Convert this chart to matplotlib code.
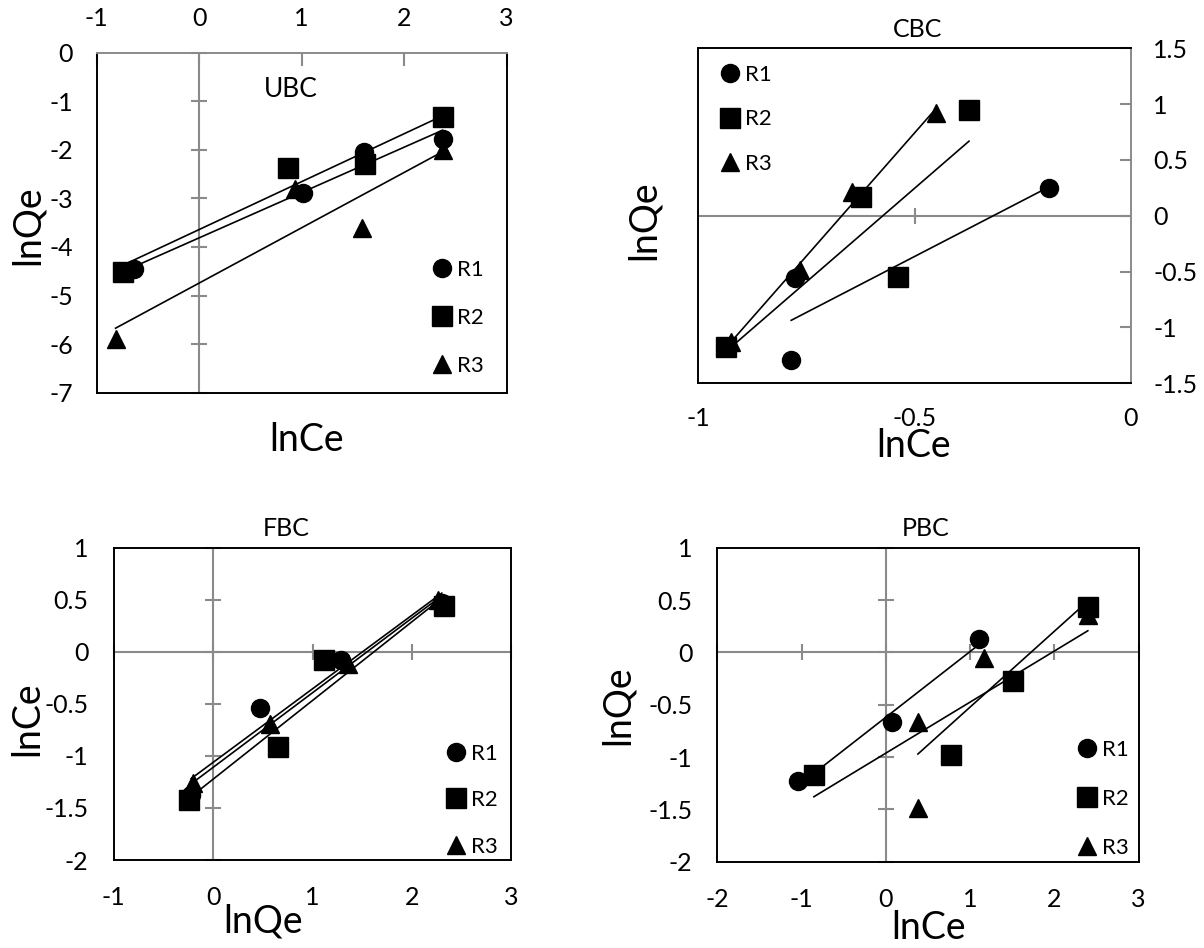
import numpy as np
import matplotlib.pyplot as plt
from matplotlib.lines import Line2D
from matplotlib.ticker import FuncFormatter

plt.rcParams['font.family'] = ['Lato', 'DejaVu Sans']
plt.rcParams['axes.unicode_minus'] = False

# ---------------- data ----------------
series_names = ['R1', 'R2', 'R3']

ubc_r1_x = [-0.635, 1.010, 1.609, 2.374]
ubc_r1_y = [-4.461, -2.896, -2.038, -1.784]
ubc_r2_x = [-0.746, 0.871, 1.619, 2.374]
ubc_r2_y = [-4.509, -2.381, -2.292, -1.318]
ubc_r3_x = [-0.816, 0.934, 1.591, 2.374]
ubc_r3_y = [-5.900, -2.800, -3.617, -2.003]

cbc_r1_x = [-0.785, -0.777, -0.190]
cbc_r1_y = [-1.291, -0.560, 0.252]
cbc_r2_x = [-0.936, -0.624, -0.539, -0.374]
cbc_r2_y = [-1.172, 0.166, -0.545, 0.948]
cbc_r3_x = [-0.924, -0.764, -0.644, -0.450]
cbc_r3_y = [-1.133, -0.485, 0.216, 0.918]

fbc_r1_x = [-0.220, 0.475, 1.290, 2.300]
fbc_r1_y = [-1.380, -0.543, -0.079, 0.470]
fbc_r2_x = [-0.239, 0.654, 1.120, 2.323]
fbc_r2_y = [-1.424, -0.915, -0.079, 0.440]
fbc_r3_x = [-0.203, 0.575, 1.360, 2.261]
fbc_r3_y = [-1.264, -0.695, -0.120, 0.500]

pbc_r1_x = [-1.048, 0.068, 1.108]
pbc_r1_y = [-1.232, -0.670, 0.124]
pbc_r2_x = [-0.855, 0.770, 1.507, 2.398]
pbc_r2_y = [-1.171, -0.980, -0.270, 0.433]
pbc_r3_x = [0.384, 0.380, 1.165, 2.402]
pbc_r3_y = [-0.662, -1.489, -0.057, 0.357]

ubc_xticks = [-1, 0, 1, 2, 3]
ubc_yticks = [0, -1, -2, -3, -4, -5, -6, -7]
cbc_xticks = [-1, -0.5, 0]
cbc_yticks = [-1.5, -1, -0.5, 0, 0.5, 1, 1.5]
fbc_xticks = [-1, 0, 1, 2, 3]
fbc_yticks = [-2, -1.5, -1, -0.5, 0, 0.5, 1]
pbc_xticks = [-2, -1, 0, 1, 2, 3]
pbc_yticks = [-2, -1.5, -1, -0.5, 0, 0.5, 1]

# ---------------- style ----------------
W, H = 1204, 948
GRAY = '#8a8a8a'
TICK_FS = 18
LEG_FS = 16
LAB_FS = 27
TIT_FS = 18
MK = {'R1': dict(marker='o', ms=13),
      'R2': dict(marker='s', ms=14),
      'R3': dict(marker='^', ms=13.5)}

fig = plt.figure(figsize=(W / 100, H / 100), dpi=100)


def add_ax(l, t, r, b):
    return fig.add_axes([l / W, 1 - b / H, (r - l) / W, (b - t) / H])


fmt = FuncFormatter(lambda v, p: f'{v + 0.0:g}')


def base(ax, xlim, ylim, xticks, yticks):
    ax.set_xlim(*xlim)
    ax.set_ylim(*ylim)
    ax.set_xticks(xticks)
    ax.set_yticks(yticks)
    ax.xaxis.set_major_formatter(fmt)
    ax.yaxis.set_major_formatter(fmt)
    for s in ax.spines.values():
        s.set_linewidth(1.4)
        s.set_color('black')
    ax.tick_params(labelsize=TICK_FS)


def draw_series(ax, xs, ys, key):
    x = np.asarray(xs, dtype=float)
    y = np.asarray(ys, dtype=float)
    k, c = np.polyfit(x, y, 1)
    xl = np.array([x.min(), x.max()])
    ax.plot(xl, k * xl + c, color='black', lw=1.2, zorder=3)
    ax.plot(x, y, ls='none', color='black', mfc='black', mec='black',
            zorder=4, clip_on=False, **MK[key])


def gray_vaxis(ax, yticks):
    ax.axvline(0, color=GRAY, lw=1.5, zorder=1.5)
    ax.plot(np.zeros(len(yticks)), yticks, ls='none', marker='_', ms=11,
            mew=1.5, color=GRAY, zorder=1.6, clip_on=False)


def gray_haxis(ax, xticks):
    ax.axhline(0, color=GRAY, lw=1.5, zorder=1.5)
    ax.plot(xticks, np.zeros(len(xticks)), ls='none', marker='|', ms=11,
            mew=1.5, color=GRAY, zorder=1.6, clip_on=False)


def legend(ax, loc, anchor, spacing):
    handles = [Line2D([], [], ls='none', color='black', **MK[n]) for n in series_names]
    ax.legend(handles, series_names, loc=loc, bbox_to_anchor=anchor, frameon=False,
              fontsize=LEG_FS, handlelength=0.85, handletextpad=0.25,
              labelspacing=spacing, borderaxespad=0, borderpad=0)


def ftext(x, y, s, size, rot=0):
    fig.text(x / W, 1 - y / H, s, ha='center', va='center', fontsize=size, rotation=rot)


# ---------------- UBC ----------------
ax = add_ax(96.7, 52.7, 506.7, 392.7)
base(ax, (-1, 3), (-7, 0), ubc_xticks, ubc_yticks)
ax.xaxis.tick_top()
ax.tick_params(axis='x', direction='in', length=9, width=1.5, color=GRAY, pad=16)
ax.tick_params(axis='y', length=0, pad=17)
ax.spines['top'].set_color(GRAY)
gray_vaxis(ax, ubc_yticks)
for xs, ys, n in [(ubc_r1_x, ubc_r1_y, 'R1'), (ubc_r2_x, ubc_r2_y, 'R2'), (ubc_r3_x, ubc_r3_y, 'R3')]:
    draw_series(ax, xs, ys, n)
legend(ax, 'lower right', (0.945, 0.05), 1.25)
ftext(291, 89.5, 'UBC', 19)
ftext(27.7, 225, 'lnQe', LAB_FS, 90)
ftext(307, 440, 'lnCe', LAB_FS)

# ---------------- CBC ----------------
ax = add_ax(698.2, 48.3, 1130.8, 383.3)
base(ax, (-1, 0), (-1.5, 1.5), cbc_xticks, cbc_yticks)
ax.yaxis.tick_right()
ax.tick_params(axis='y', direction='in', length=8, width=1.5, color=GRAY, pad=16)
ax.tick_params(axis='x', length=0, pad=17)
ax.spines['right'].set_color(GRAY)
gray_haxis(ax, [-0.5])
for xs, ys, n in [(cbc_r1_x, cbc_r1_y, 'R1'), (cbc_r2_x, cbc_r2_y, 'R2'), (cbc_r3_x, cbc_r3_y, 'R3')]:
    draw_series(ax, xs, ys, n)
legend(ax, 'upper left', (0.052, 0.95), 1.1)
ftext(918, 29.5, 'CBC', TIT_FS)
ftext(643.5, 220, 'lnQe', LAB_FS, 90)
ftext(913.5, 446, 'lnCe', LAB_FS)

# ---------------- FBC ----------------
ax = add_ax(113.6, 547.7, 511.4, 860.0)
base(ax, (-1, 3), (-2, 1), fbc_xticks, fbc_yticks)
ax.tick_params(length=0)
ax.tick_params(axis='x', pad=19)
ax.tick_params(axis='y', pad=18)
gray_vaxis(ax, fbc_yticks)
gray_haxis(ax, fbc_xticks)
for xs, ys, n in [(fbc_r1_x, fbc_r1_y, 'R1'), (fbc_r2_x, fbc_r2_y, 'R2'), (fbc_r3_x, fbc_r3_y, 'R3')]:
    draw_series(ax, xs, ys, n)
legend(ax, 'lower right', (0.966, 0.01), 1.2)
ftext(286.6, 529, 'FBC', TIT_FS)
ftext(27, 719, 'lnCe', LAB_FS, 90)
ftext(263.5, 922, 'lnQe', LAB_FS)

# ---------------- PBC ----------------
ax = add_ax(717.5, 547.7, 1138.5, 861.7)
base(ax, (-2, 3), (-2, 1), pbc_xticks, pbc_yticks)
ax.tick_params(length=0)
ax.tick_params(axis='x', pad=19)
ax.tick_params(axis='y', pad=18)
gray_vaxis(ax, pbc_yticks)
gray_haxis(ax, pbc_xticks)
for xs, ys, n in [(pbc_r1_x, pbc_r1_y, 'R1'), (pbc_r2_x, pbc_r2_y, 'R2'), (pbc_r3_x, pbc_r3_y, 'R3')]:
    draw_series(ax, xs, ys, n)
legend(ax, 'lower right', (0.976, 0.013), 1.3)
ftext(925.8, 529, 'PBC', TIT_FS)
ftext(618, 705, 'lnQe', LAB_FS, 90)
ftext(928.5, 928, 'lnCe', LAB_FS)

fig.savefig('out.png', dpi=100)
